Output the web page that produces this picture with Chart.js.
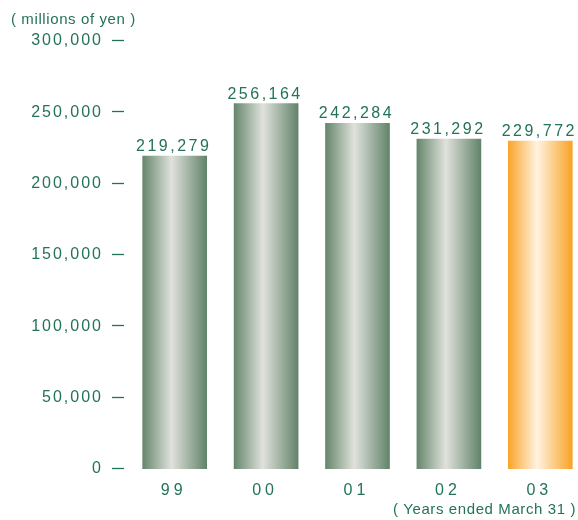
<!DOCTYPE html>
<html>
<head>
<meta charset="utf-8">
<script src="https://cdn.jsdelivr.net/npm/chart.js@4"></script>
<style>
  html, body { margin: 0; padding: 0; background: #fff; overflow: hidden; }
</style>
</head>
<body>
<canvas id="salesChart" width="586" height="520"></canvas>
<script>
// Net sales, fiscal years ended March 31 (millions of yen)
const years = ['99', '00', '01', '02', '03'];
const sales = [219279, 256164, 242284, 231292, 229772];
const yTicks = [0, 50000, 100000, 150000, 200000, 250000, 300000];

const textColor = '#237356';
const fontFamily = '"Liberation Sans", Arial, sans-serif';
const barWidth = 64;

function fmt(v) {
    return v.toLocaleString('en-US');
}

// horizontal "cylinder" shading for each bar
function barFill(context) {
    const chart = context.chart;
    if (!chart.chartArea) return '#7a9a80';
    const ctx = chart.ctx;
    const cx = chart.scales.x.getPixelForValue(context.dataIndex);
    const g = ctx.createLinearGradient(cx - barWidth / 2, 0, cx + barWidth / 2, 0);
    if (context.dataIndex === sales.length - 1) {
        g.addColorStop(0, '#f9a52a');
        g.addColorStop(0.45, '#fff3e2');
        g.addColorStop(1, '#f8a326');
    } else {
        g.addColorStop(0, '#66866c');
        g.addColorStop(0.45, '#e0e2dc');
        g.addColorStop(1, '#62836a');
    }
    return g;
}

// spaced-out digits: y labels before the bars, year labels (z: 1) after them
const spacingPlugin = {
    id: 'spacing',
    beforeDraw(chart) {
        chart.ctx.letterSpacing = '2px';
    },
    afterDatasetsDraw(chart) {
        chart.ctx.letterSpacing = '4px';
    }
};

const decorPlugin = {
    id: 'decor',
    afterDraw(chart) {
        const ctx = chart.ctx;
        const y = chart.scales.y;
        ctx.save();

        // short dashes next to the value labels
        ctx.strokeStyle = textColor;
        ctx.lineWidth = 1.3;
        y.ticks.forEach(t => {
            const py = Math.round(y.getPixelForValue(t.value)) - 0.5;
            ctx.beginPath();
            ctx.moveTo(y.right - 17, py);
            ctx.lineTo(y.right - 5, py);
            ctx.stroke();
        });

        // value on top of each bar
        ctx.fillStyle = textColor;
        ctx.font = '16px ' + fontFamily;
        ctx.textAlign = 'center';
        ctx.textBaseline = 'alphabetic';
        ctx.letterSpacing = '2.5px';
        chart.getDatasetMeta(0).data.forEach((bar, i) => {
            ctx.fillText(fmt(sales[i]), bar.x - 1, bar.y - 5);
        });

        // unit and period captions
        ctx.font = '15px ' + fontFamily;
        ctx.letterSpacing = '0.6px';
        ctx.textAlign = 'left';
        ctx.fillText('( millions of yen )', 11, 24);
        ctx.textAlign = 'right';
        ctx.fillText('( Years ended March 31 )', 576, 514);
        ctx.restore();
    }
};

new Chart(document.getElementById('salesChart'), {
    type: 'bar',
    data: {
        labels: years,
        datasets: [{
            data: sales,
            backgroundColor: barFill,
            borderWidth: 0,
            barThickness: barWidth
        }]
    },
    options: {
        responsive: false,
        animation: false,
        layout: { padding: { top: 41, right: 0, bottom: 0, left: 0 } },
        plugins: {
            legend: { display: false },
            tooltip: { enabled: false }
        },
        scales: {
            x: {
                grid: { display: false },
                border: { display: false },
                ticks: {
                    z: 1,
                    color: textColor,
                    font: { family: fontFamily, size: 16 },
                    padding: 4,
                    labelOffset: -1
                },
                afterFit(scale) { scale.height = 51; }
            },
            y: {
                min: 0,
                max: 300000,
                afterBuildTicks(scale) {
                    scale.ticks = yTicks.map(v => ({ value: v }));
                },
                grid: { display: false },
                border: { display: false },
                ticks: {
                    color: textColor,
                    font: { family: fontFamily, size: 16 },
                    padding: 18,
                    callback: v => fmt(v)
                },
                afterFit(scale) { scale.width = 129; }
            }
        }
    },
    plugins: [spacingPlugin, decorPlugin]
});
</script>
</body>
</html>
